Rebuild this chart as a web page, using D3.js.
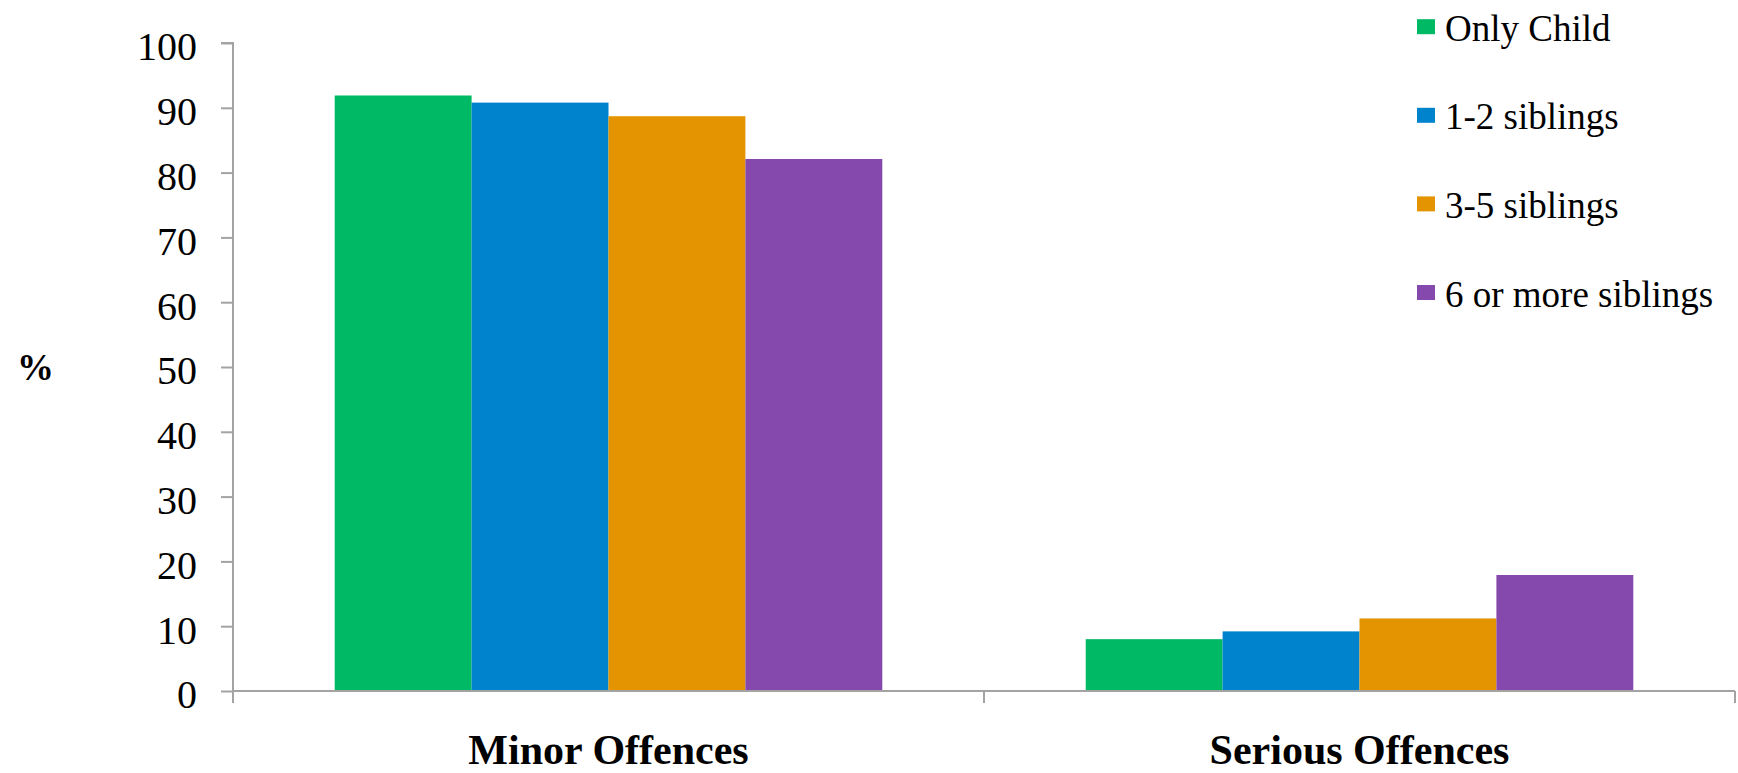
<!DOCTYPE html>
<html>
<head>
<meta charset="utf-8">
<script src="https://cdn.jsdelivr.net/npm/d3@7"></script>
<style>
  html, body { margin: 0; padding: 0; background: #ffffff; }
  svg { display: block; }
  svg text { font-family: "Liberation Serif", "Times New Roman", Times, "Nimbus Roman", "Nimbus Roman No9 L", FreeSerif, "Noto Serif", "DejaVu Serif", Tinos, serif; }
</style>
</head>
<body>
<svg id="chart" width="1738" height="773"></svg>
<script>
// Offence categories and sibling-group series
const categories = ["Minor Offences", "Serious Offences"];
const seriesNames = ["Only Child", "1-2 siblings", "3-5 siblings", "6 or more siblings"];
const seriesColors = ["#00B964", "#0083CD", "#E39400", "#8549AD"];

// Percentage values per series, in category order
const onlyChild = [91.9, 8.0];
const siblings1to2 = [90.8, 9.2];
const siblings3to5 = [88.7, 11.2];
const siblings6plus = [82.1, 17.9];
const seriesValues = [onlyChild, siblings1to2, siblings3to5, siblings6plus];

const yTicks = [0, 10, 20, 30, 40, 50, 60, 70, 80, 90, 100];
const yLabel = "%";

const svg = d3.select("#chart");
const axisColor = "#a3a3a3";

const plotLeft = 233, plotRight = 1735, plotTop = 43, plotBottom = 691;

const x0 = d3.scaleBand().domain(categories).range([plotLeft, plotRight]);
// series positions inside each category band
const x1 = d3.scaleBand().domain(seriesNames)
  .range([0, x0.bandwidth()]).paddingInner(0).paddingOuter(0.743);
const y = d3.scaleLinear().domain([0, 100]).range([plotBottom, plotTop]);

// Bars
const rows = [];
categories.forEach((c, ci) => {
  seriesNames.forEach((s, si) => {
    rows.push({ cat: c, series: s, value: seriesValues[si][ci], color: seriesColors[si] });
  });
});

svg.append("g").selectAll("rect").data(rows).join("rect")
  .attr("x", d => x0(d.cat) + x1(d.series))
  .attr("width", x1.bandwidth())
  .attr("y", d => y(d.value))
  .attr("height", d => y(0) - y(d.value))
  .attr("fill", d => d.color);

// Y axis
const yAxis = svg.append("g")
  .attr("transform", `translate(${plotLeft},0)`)
  .call(d3.axisLeft(y).tickValues(yTicks).tickSize(12).tickPadding(24).tickFormat(d3.format("d")))
  .attr("font-family", null).attr("font-size", null);
yAxis.select(".domain").attr("stroke", axisColor).attr("stroke-width", 2)
  .attr("d", `M-12,${plotTop}H0V${plotBottom}`);
yAxis.selectAll(".tick line").attr("stroke", axisColor).attr("stroke-width", 2);
yAxis.selectAll(".tick text")
  .attr("fill", "#000").attr("dy", "0.42em")
  .style("font-size", "40px");

// X axis line and category boundary ticks
const xAxis = svg.append("g");
xAxis.append("line")
  .attr("x1", plotLeft).attr("x2", plotRight)
  .attr("y1", y(0)).attr("y2", y(0))
  .attr("stroke", axisColor).attr("stroke-width", 2);
const boundaries = categories.map(c => x0(c)).concat([x0.range()[1]]);
xAxis.selectAll("line.bound").data(boundaries).join("line")
  .attr("class", "bound")
  .attr("x1", d => d).attr("x2", d => d)
  .attr("y1", y(0)).attr("y2", y(0) + 12)
  .attr("stroke", axisColor).attr("stroke-width", 2);
xAxis.selectAll("text").data(categories).join("text")
  .attr("x", d => x0(d) + x0.bandwidth() / 2)
  .attr("y", 764)
  .attr("text-anchor", "middle")
  .style("font-size", "42px").style("font-weight", "bold")
  .text(d => d);

// Y axis title
svg.append("text")
  .attr("x", 17).attr("y", 380)
  .style("font-size", "37px").style("font-weight", "bold")
  .text(yLabel);

// Legend
const legend = svg.append("g").selectAll("g").data(seriesNames).join("g")
  .attr("transform", (d, i) => `translate(1417,${26.7 + i * 88.6})`);
legend.append("rect")
  .attr("x", 0).attr("y", -7.5).attr("width", 18).attr("height", 15)
  .attr("fill", (d, i) => seriesColors[i]);
legend.append("text")
  .attr("x", 28).attr("y", 14)
  .style("font-size", "37px")
  .text(d => d);
</script>
</body>
</html>
